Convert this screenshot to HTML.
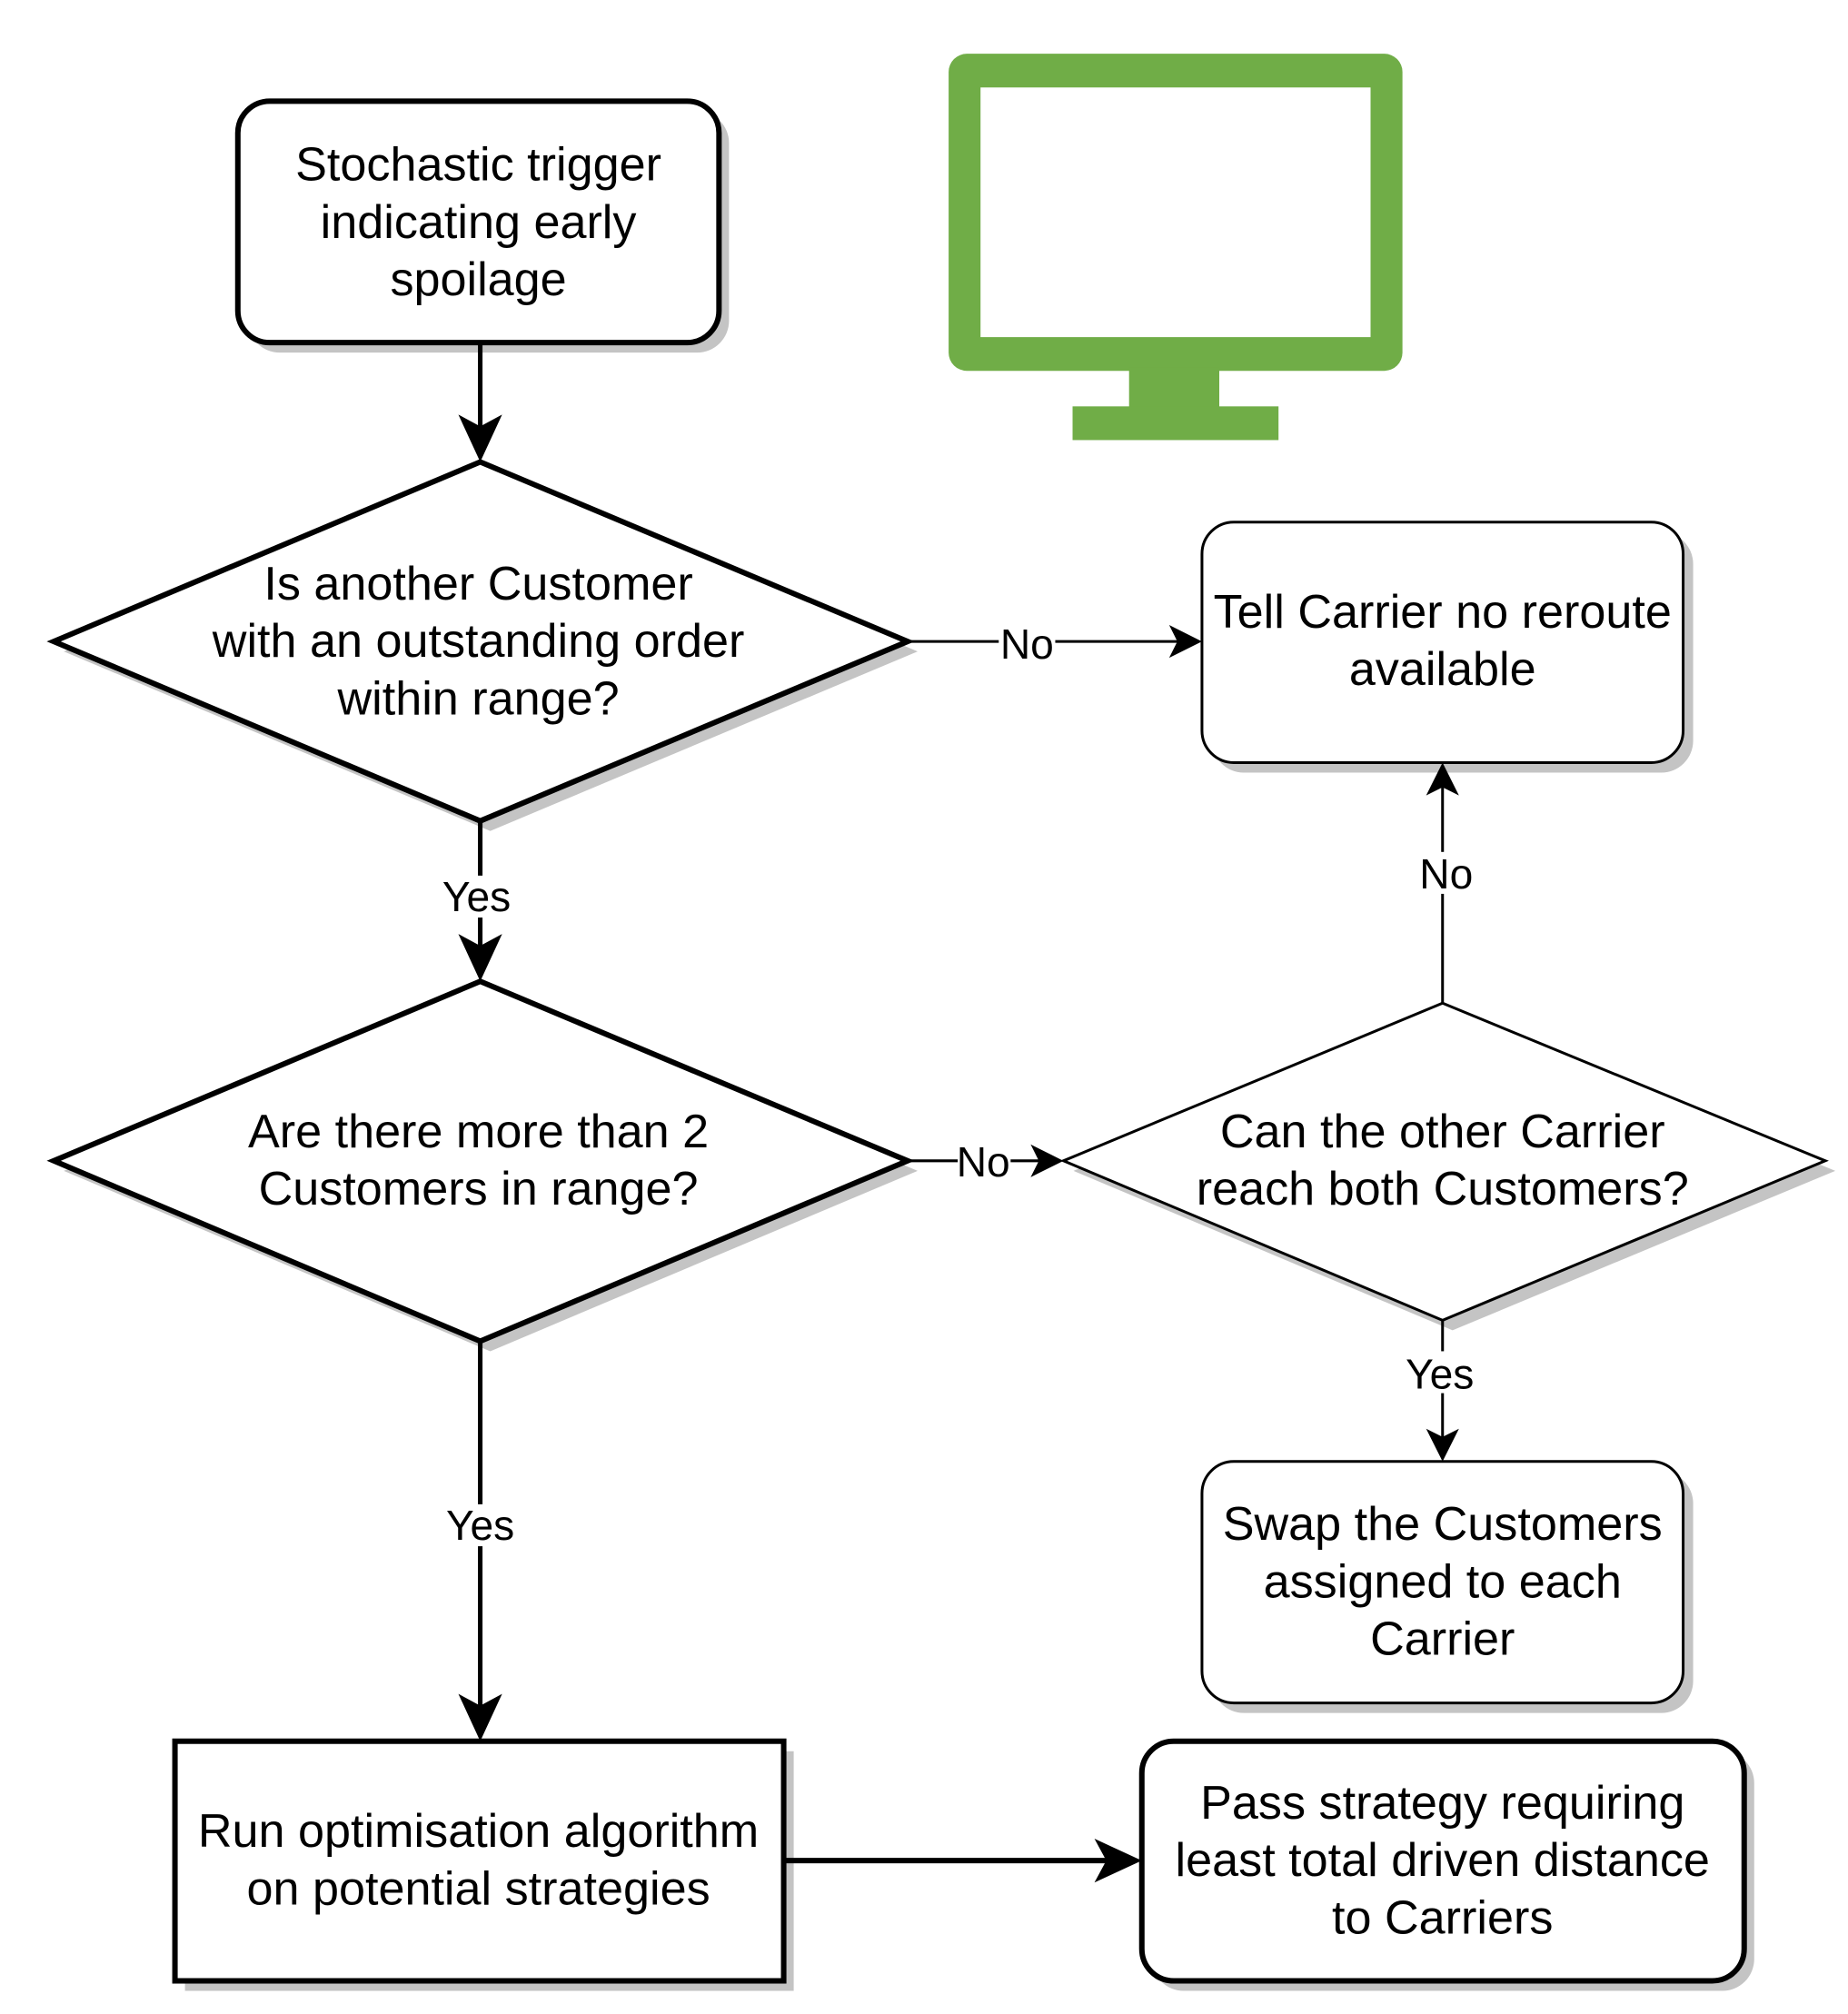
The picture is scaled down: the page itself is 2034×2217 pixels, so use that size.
<!DOCTYPE html>
<html><head><meta charset="utf-8"><style>
html,body{margin:0;padding:0;background:#fff;}
svg{display:block;}
text{font-family:"Liberation Sans",Arial,sans-serif;fill:#000;}
</style></head><body>
<svg width="2034" height="2217" viewBox="0 0 2034 2217" xmlns="http://www.w3.org/2000/svg">
<g transform="translate(3,3) scale(1.003)">
<!-- shadows -->
<g fill="#c4c4c4">
<rect x="269" y="119" width="528" height="265" rx="35"/>
<polygon points="67,712 535,515 1004,712 535,909"/>
<rect x="1327" y="581" width="528" height="264" rx="35"/>
<polygon points="67,1282 535,1085 1004,1282 535,1480"/>
<polygon points="1175,1282 1591,1109 2011,1282 1591,1457"/>
<rect x="1327" y="1612" width="528" height="265" rx="35"/>
<rect x="200" y="1919" width="668" height="263"/>
<rect x="1261" y="1919" width="661" height="263" rx="35"/>
</g>
<!-- monitor -->
<rect x="1038" y="56" width="498" height="348" rx="20" fill="#70AD47"/>
<rect x="1073" y="93" width="428" height="274" fill="#fff"/>
<rect x="1236" y="400" width="99" height="45" fill="#70AD47"/>
<rect x="1174" y="443" width="226" height="37" fill="#70AD47"/>
<!-- shapes -->
<g stroke="#000" fill="#fff">
<rect x="258" y="108" width="528" height="265" rx="35" stroke-width="6"/>
<polygon points="56,701 524,504 993,701 524,898" stroke-width="6"/>
<rect x="1316" y="570" width="528" height="264" rx="35" stroke-width="3"/>
<polygon points="56,1271 524,1074 993,1271 524,1469" stroke-width="6"/>
<polygon points="1164,1271 1580,1098 2000,1271 1580,1446" stroke-width="3"/>
<rect x="1316" y="1601" width="528" height="265" rx="35" stroke-width="3"/>
<rect x="189" y="1908" width="668" height="263" stroke-width="6"/>
<rect x="1250" y="1908" width="661" height="263" rx="35" stroke-width="6"/>
</g>
<!-- connectors -->
<g stroke="#000" fill="none">
<line x1="524" y1="373" x2="524" y2="480" stroke-width="5"/>
<line x1="524" y1="898" x2="524" y2="1050" stroke-width="5"/>
<line x1="524" y1="1469" x2="524" y2="1884" stroke-width="5"/>
<line x1="857" y1="2039" x2="1226" y2="2039" stroke-width="6"/>
<line x1="993" y1="701" x2="1296" y2="701" stroke-width="3"/>
<line x1="993" y1="1271" x2="1146" y2="1271" stroke-width="3"/>
<line x1="1580" y1="1098" x2="1580" y2="852" stroke-width="3"/>
<line x1="1580" y1="1446" x2="1580" y2="1584" stroke-width="3"/>
</g>
<g fill="#000">
<polygon points="524,504 500,452 524,465 548,452"/>
<polygon points="524,1074 500,1022 524,1035 548,1022"/>
<polygon points="524,1908 500,1856 524,1869 548,1856"/>
<polygon points="1250,2039 1198,2015 1211,2039 1198,2063"/>
<polygon points="1316,701 1280,683 1289,701 1280,719"/>
<polygon points="1164,1271 1128,1253 1137,1271 1128,1289"/>
<polygon points="1580,834 1562,870 1580,861 1598,870"/>
<polygon points="1580,1601 1562,1565 1580,1574 1598,1565"/>
</g>
<!-- labels backgrounds -->
<g fill="#fff">
<rect x="1093" y="680" width="62" height="44"/>
<rect x="1048" y="1250" width="58" height="44"/>
<rect x="1553" y="932" width="62" height="46"/>
<rect x="1542" y="1480" width="72" height="46"/>
<rect x="484" y="958" width="80" height="46"/>
<rect x="488" y="1648" width="80" height="46"/>
</g>
<g font-size="46" text-anchor="middle">
<text x="1124" y="720">No</text>
<text x="1076" y="1288">No</text>
<text x="1584" y="972">No</text>
<text x="1577" y="1521">Yes</text>
<text x="520" y="997">Yes</text>
<text x="524" y="1687">Yes</text>
</g>
<g font-size="52" text-anchor="middle">
<text x="522" y="195">Stochastic trigger</text>
<text x="522" y="258">indicating early</text>
<text x="522" y="321">spoilage</text>
<text x="522" y="655">Is another Customer</text>
<text x="522" y="718">with an outstanding order</text>
<text x="522" y="781">within range?</text>
<text x="1580" y="686">Tell Carrier no reroute</text>
<text x="1580" y="749">available</text>
<text x="522" y="1256">Are there more than 2</text>
<text x="522" y="1319">Customers in range?</text>
<text x="1580" y="1256">Can the other Carrier</text>
<text x="1580" y="1319">reach both Customers?</text>
<text x="1580" y="1687">Swap the Customers</text>
<text x="1580" y="1750">assigned to each</text>
<text x="1580" y="1813">Carrier</text>
<text x="522" y="2024">Run optimisation algorithm</text>
<text x="522" y="2087">on potential strategies</text>
<text x="1580" y="1993">Pass strategy requiring</text>
<text x="1580" y="2056">least total driven distance</text>
<text x="1580" y="2119">to Carriers</text>
</g>
</g>
</svg>
</body></html>
